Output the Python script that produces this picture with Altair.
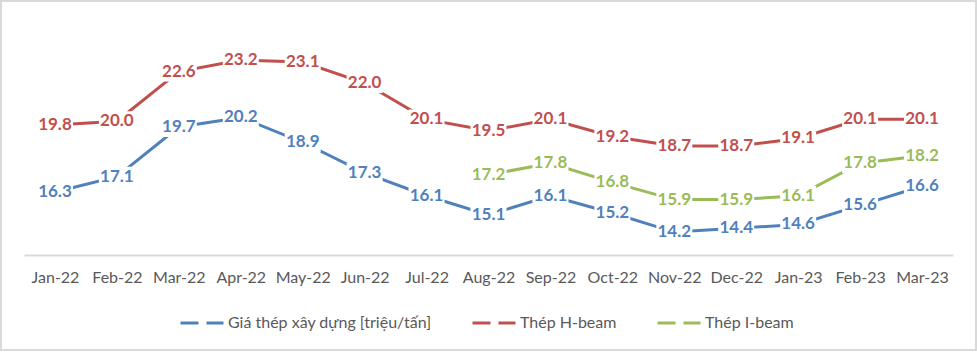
import altair as alt
import pandas as pd

months = ["Jan-22", "Feb-22", "Mar-22", "Apr-22", "May-22", "Jun-22", "Jul-22", "Aug-22",
          "Sep-22", "Oct-22", "Nov-22", "Dec-22", "Jan-23", "Feb-23", "Mar-23"]
series_names = ["Giá thép xây dựng [triệu/tấn]", "Thép H-beam", "Thép I-beam"]
colors = ["#4f81bd", "#c0504d", "#9bbb59"]

xay_dung = [16.3, 17.1, 19.7, 20.2, 18.9, 17.3, 16.1, 15.1, 16.1, 15.2, 14.2, 14.4, 14.6, 15.6, 16.6]
h_beam = [19.8, 20.0, 22.6, 23.2, 23.1, 22.0, 20.1, 19.5, 20.1, 19.2, 18.7, 18.7, 19.1, 20.1, 20.1]
i_beam = [None, None, None, None, None, None, None, 17.2, 17.8, 16.8, 15.9, 15.9, 16.1, 17.8, 18.2]

rows = []
for name, vals in zip(series_names, [xay_dung, h_beam, i_beam]):
    for m, v in zip(months, vals):
        if v is not None:
            rows.append({"month": m, "series": name, "value": v})
df = pd.DataFrame(rows)

FONT = "Lato"
W, H = 929, 235

x_enc = alt.X("month:O", sort=months, title=None,
              axis=alt.Axis(labelAngle=0, ticks=False, labelPadding=14, labelFont=FONT,
                            labelFontSize=16, labelColor="#595959", domainColor="#d9d9d9",
                            domainWidth=2, grid=False))
y_enc = alt.Y("value:Q", scale=alt.Scale(domain=[13, 25.3], nice=False, zero=False), axis=None)
color_enc = alt.Color("series:N", scale=alt.Scale(domain=series_names, range=colors),
                      sort=series_names,
                      legend=alt.Legend(title=None, orient="none", direction="horizontal",
                                        legendX=155, legendY=280,
                                        symbolType="stroke", symbolStrokeWidth=3,
                                        symbolDash=[18, 8], symbolSize=1849,
                                        labelFont=FONT, labelFontSize=16,
                                        labelColor="#595959", labelOffset=3,
                                        columnPadding=34, labelLimit=400))

base = alt.Chart(df)

border = alt.Chart(alt.Data(values=[{"a": 1}])).mark_rect(
    filled=False, stroke="#d9d9d9", strokeWidth=2
).encode(x=alt.value(-23), x2=alt.value(952), y=alt.value(-19), y2=alt.value(330))

lines = base.mark_line(strokeWidth=3).encode(x=x_enc, y=y_enc, color=color_enc)

boxes = base.mark_point(
    shape="M-1,-0.55L1,-0.55L1,0.55L-1,0.55Z", size=1296, filled=True,
    fill="white", opacity=1, strokeWidth=0
).encode(x=x_enc, y=y_enc)

labels = base.mark_text(font=FONT, fontWeight="bold", fontSize=17, baseline="middle",
                        align="center").encode(
    x=x_enc, y=y_enc, color=color_enc, text=alt.Text("value:Q", format=".1f"))

chart = alt.layer(border, lines, boxes, labels).properties(
    width=W, height=H,
    background="white",
    autosize=alt.AutoSizeParams(type="none"),
    padding={"left": 24, "top": 20, "right": 24, "bottom": 97},
).configure_view(stroke=None)

chart.save("out.html", embed_options={"renderer": "svg", "actions": False})
